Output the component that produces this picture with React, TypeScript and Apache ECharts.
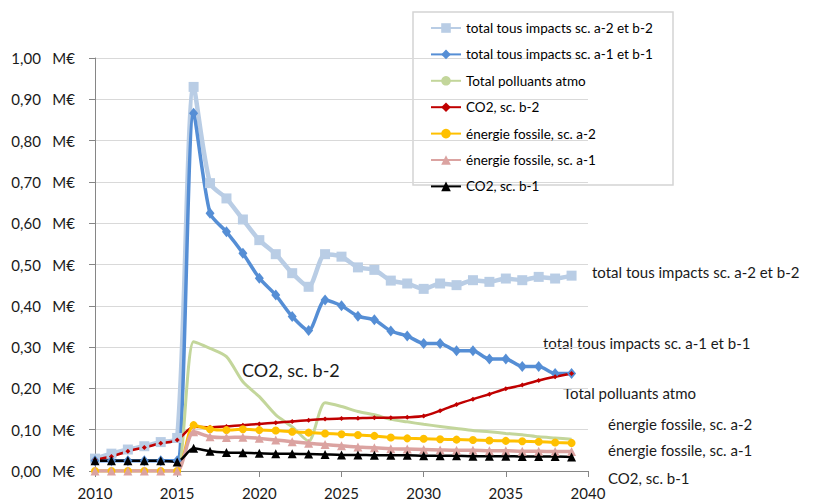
import React, { useEffect, useRef } from "react";
import * as echarts from "echarts";

const years = [2010, 2011, 2012, 2013, 2014, 2015, 2016, 2017, 2018, 2019, 2020, 2021, 2022, 2023, 2024, 2025, 2026, 2027, 2028, 2029, 2030, 2031, 2032, 2033, 2034, 2035, 2036, 2037, 2038, 2039];

const totalA2B2 = [0.030, 0.042, 0.052, 0.060, 0.070, 0.080, 0.930, 0.697, 0.660, 0.609, 0.559, 0.525, 0.479, 0.446, 0.525, 0.519, 0.493, 0.487, 0.461, 0.454, 0.441, 0.454, 0.450, 0.462, 0.458, 0.466, 0.462, 0.470, 0.466, 0.473];
const totalA1B1 = [0.025, 0.025, 0.025, 0.025, 0.025, 0.025, 0.866, 0.624, 0.579, 0.527, 0.467, 0.426, 0.374, 0.340, 0.414, 0.400, 0.375, 0.366, 0.339, 0.327, 0.309, 0.309, 0.291, 0.291, 0.271, 0.271, 0.253, 0.253, 0.236, 0.236];
const polluants = [0, 0, 0, 0, 0, 0, 0.313, 0.297, 0.277, 0.216, 0.180, 0.136, 0.107, 0.072, 0.165, 0.156, 0.144, 0.136, 0.125, 0.119, 0.113, 0.108, 0.103, 0.098, 0.095, 0.091, 0.088, 0.083, 0.080, 0.077];
const co2B2 = [0.027, 0.035, 0.048, 0.057, 0.067, 0.075, 0.107, 0.106, 0.108, 0.111, 0.114, 0.117, 0.120, 0.123, 0.126, 0.127, 0.128, 0.129, 0.129, 0.130, 0.133, 0.146, 0.161, 0.174, 0.186, 0.199, 0.208, 0.219, 0.228, 0.236];
const fossileA2 = [0, 0, 0, 0, 0, 0, 0.111, 0.101, 0.099, 0.101, 0.099, 0.098, 0.095, 0.093, 0.091, 0.089, 0.087, 0.085, 0.081, 0.079, 0.078, 0.077, 0.076, 0.075, 0.074, 0.073, 0.072, 0.071, 0.069, 0.068];
const fossileA1 = [0, 0, 0, 0, 0, 0, 0.095, 0.083, 0.081, 0.082, 0.079, 0.075, 0.071, 0.067, 0.064, 0.061, 0.058, 0.056, 0.054, 0.053, 0.052, 0.051, 0.050, 0.050, 0.049, 0.049, 0.048, 0.048, 0.047, 0.047];
const co2B1 = [0.025, 0.025, 0.025, 0.025, 0.025, 0.022, 0.055, 0.048, 0.045, 0.044, 0.043, 0.042, 0.042, 0.041, 0.040, 0.039, 0.039, 0.038, 0.038, 0.038, 0.037, 0.037, 0.037, 0.036, 0.036, 0.036, 0.035, 0.035, 0.035, 0.034];

const seriesNames = [
  "total tous impacts sc. a-2 et b-2",
  "total tous impacts sc. a-1 et b-1",
  "Total polluants atmo",
  "CO2, sc. b-2",
  "énergie fossile, sc. a-2",
  "énergie fossile, sc. a-1",
  "CO2, sc. b-1",
];

const FONT = "Lato, 'Liberation Sans', sans-serif";

function pairs(values: number[]) {
  return years.map((y, i) => [y, values[i]]);
}

export default function App() {
  const ref = useRef<HTMLDivElement>(null);
  useEffect(() => {
    if (!ref.current) return;
    const chart = echarts.init(ref.current, null, { renderer: "svg" });
    const mk = (name: string, vals: number[], color: string, width: number, symbol: string, size: any) => ({
      name,
      type: "line",
      data: pairs(vals),
      smooth: 0.25,
      symbol,
      symbolSize: size,
      showSymbol: symbol !== "none",
      color,
      itemStyle: { color },
      lineStyle: { color, width },
      emphasis: { disabled: true },
    });
    const labelText = (text: string, x: number, y: number, size = 15) => ({
      type: "text",
      x,
      y,
      style: { text, font: `${size}px ${FONT}`, fill: "#1a1a1a", align: "left", verticalAlign: "middle" },
    });
    chart.setOption({
      animation: false,
      backgroundColor: "#ffffff",
      grid: { left: 95, right: 226, top: 58, bottom: 33, containLabel: false },
      xAxis: {
        type: "value",
        min: 2010,
        max: 2040,
        interval: 5,
        axisLine: { show: true, lineStyle: { color: "#868686", width: 1 } },
        axisTick: { show: true, length: 6, lineStyle: { color: "#868686" } },
        splitLine: { show: false },
        axisLabel: { fontSize: 15, fontFamily: FONT, color: "#1a1a1a", margin: 14, formatter: (v: number) => String(v) },
      },
      yAxis: {
        type: "value",
        min: 0,
        max: 1,
        interval: 0.1,
        axisLine: { show: true, lineStyle: { color: "#868686", width: 1 } },
        axisTick: { show: true, length: 6, lineStyle: { color: "#868686" } },
        splitLine: { show: true, lineStyle: { color: "#d9d9d9", width: 1 } },
        axisLabel: {
          fontSize: 15,
          fontFamily: FONT,
          color: "#1a1a1a",
          margin: 20,
          formatter: (v: number) => v.toFixed(2).replace(".", ",") + "   M€",
        },
      },
      legend: {
        orient: "vertical",
        left: 430,
        top: 21,
        padding: 0,
        itemWidth: 30,
        itemHeight: 12,
        itemGap: 12.4,
        data: seriesNames,
        textStyle: { fontSize: 13.5, fontFamily: FONT, color: "#000" },
      },
      graphic: [
        {
          type: "rect",
          shape: { x: 413, y: 12, width: 260, height: 173 },
          style: { fill: "none", stroke: "#d4d4d4", lineWidth: 1.5 },
          z: -1,
        },
        labelText("total tous impacts sc. a-2 et b-2", 592, 272),
        labelText("total tous impacts sc. a-1 et b-1", 543, 343),
        labelText("Total polluants atmo", 563, 393),
        labelText("énergie fossile, sc. a-2", 608, 424),
        labelText("énergie fossile, sc. a-1", 608, 450),
        labelText("CO2, sc. b-1", 608, 478),
        labelText("CO2, sc. b-2", 242, 370, 18),
      ],
      series: [
        mk(seriesNames[0], totalA2B2, "#b9cde5", 4.5, "rect", 10),
        mk(seriesNames[1], totalA1B1, "#558ed5", 3.5, "diamond", [9, 11]),
        mk(seriesNames[2], polluants, "#c3d69b", 3, "none", 0),
        mk(seriesNames[3], co2B2, "#c00000", 2.5, "diamond", 5),
        mk(seriesNames[4], fossileA2, "#ffc000", 3, "circle", 8),
        mk(seriesNames[5], fossileA1, "#dba3a1", 3.5, "triangle", 9),
        mk(seriesNames[6], co2B1, "#000000", 2.5, "triangle", 9),
      ],
    });
    return () => chart.dispose();
  }, []);
  return <div ref={ref} style={{ position: "fixed", left: 0, top: 0, width: 814, height: 504, background: "#fff" }} />;
}
